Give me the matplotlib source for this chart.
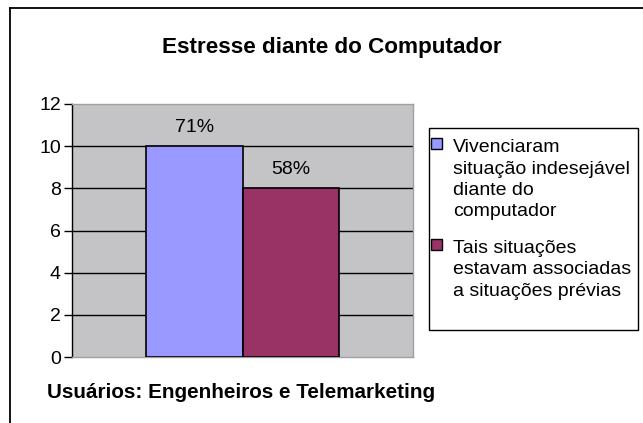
import matplotlib
matplotlib.use('Agg')
import matplotlib.pyplot as plt
from matplotlib.patches import Rectangle

plt.rcParams['font.family'] = ['Liberation Sans', 'DejaVu Sans']

series = [['Vivenciaram', 'situação indesejável', 'diante do', 'computador'],
          ['Tais situações', 'estavam associadas', 'a situações prévias']]
values = [10, 8]
labels = ['71%', '58%']
colors = ['#9999FF', '#993366']
yticks = [0, 2, 4, 6, 8, 10, 12]

W, H = 643, 423
fig = plt.figure(figsize=(W / 100, H / 100), dpi=100)

# overlay in pixel coords for frame, titles and legend
ov = fig.add_axes([0, 0, 1, 1])
ov.set_xlim(0, W)
ov.set_ylim(H, 0)
ov.axis('off')

# plot area: x 72..413, y 104..357
ax = fig.add_axes([72 / W, 1 - 357 / H, (413 - 72) / W, (357 - 104) / H])
ax.set_facecolor('#C4C4C6')

width = 0.283
offsets = [-width / 2, width / 2]
for off, v, c, lab in zip(offsets, values, colors, labels):
    ax.bar(off, v, width=width, color=c, edgecolor='black', linewidth=1.2, zorder=3)
    ax.text(off, v + 0.9, lab, ha='center', va='center', fontsize=14, zorder=4)

ax.set_xlim(-0.5, 0.5)
ax.set_ylim(0, 12)
ax.set_yticks(yticks)
ax.set_xticks([])
ax.tick_params(axis='y', labelsize=14, length=6, width=1, direction='out', pad=2)
for y in yticks[1:-1]:
    ax.axhline(y, color='black', linewidth=1, zorder=1)
ax.spines['left'].set_color('black')
ax.spines['left'].set_linewidth(1)
for s in ['top', 'right', 'bottom']:
    ax.spines[s].set_color('#A0A0A0')
    ax.spines[s].set_linewidth(1)

ov.text(332, 53, 'Estresse diante do Computador', ha='center', va='baseline',
        fontsize=16.2, fontweight='bold')
ov.text(47, 398, 'Usuários: Engenheiros e Telemarketing', ha='left', va='baseline',
        fontsize=14.9, fontweight='bold')

# legend
ov.add_patch(Rectangle((429, 128), 209, 202, facecolor='white', edgecolor='black', linewidth=1))
line_h = 21.5
starts = [152, 253]
for lines, c, y0 in zip(series, colors, starts):
    ov.add_patch(Rectangle((431, y0 - 14), 11, 11, facecolor=c, edgecolor='black', linewidth=1))
    for i, txt in enumerate(lines):
        ov.text(453, y0 + i * line_h, txt, ha='left', va='baseline', fontsize=14)

# outer chart frame
ov.plot([10, 10], [8, H], color='black', linewidth=1.3, clip_on=False)
ov.plot([10, W], [8, 8], color='black', linewidth=1.3, clip_on=False)

fig.savefig('out.png', dpi=100)
